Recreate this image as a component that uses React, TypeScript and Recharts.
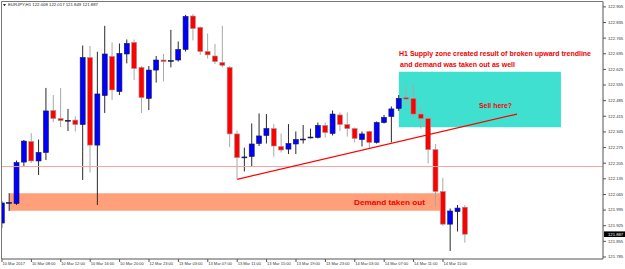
import React from 'react';
import {
  ComposedChart,
  Bar,
  XAxis,
  YAxis,
  ReferenceArea,
  ReferenceLine
} from 'recharts';

// EURJPY H1, one entry per bar (10 Mar 04:00 -> 14 Mar 18:00)
const opens = [
  121.937, 122.027, 122.024, 122.210, 122.302, 122.215, 122.253, 122.441, 122.405, 122.397,
  122.398, 122.378, 122.678, 122.286, 122.508, 122.683, 122.526, 122.694, 122.746, 122.634,
  122.495, 122.622, 122.667, 122.663, 122.667, 122.714, 122.864, 122.813, 122.705, 122.685,
  122.656, 122.634, 122.336, 122.230, 122.235, 122.293, 122.329, 122.360, 122.280, 122.268,
  122.291, 122.311, 122.320, 122.320, 122.374, 122.338, 122.421, 122.378, 122.360, 122.311,
  122.347, 122.298, 122.387, 122.414, 122.450, 122.499, 122.495, 122.425, 122.405, 122.266,
  122.078, 121.932, 121.988, 122.008
];
const highs = [
  122.036, 122.071, 122.217, 122.309, 122.340, 122.311, 122.542, 122.510, 122.542, 122.448,
  122.414, 122.732, 122.730, 122.704, 122.820, 122.746, 122.741, 122.759, 122.759, 122.640,
  122.640, 122.685, 122.694, 122.802, 122.750, 122.869, 122.873, 122.817, 122.786, 122.739,
  122.820, 122.640, 122.351, 122.275, 122.383, 122.428, 122.425, 122.380, 122.338, 122.380,
  122.347, 122.376, 122.360, 122.387, 122.387, 122.441, 122.432, 122.432, 122.365, 122.347,
  122.351, 122.392, 122.421, 122.459, 122.510, 122.551, 122.562, 122.454, 122.416, 122.291,
  122.139, 122.002, 122.018, 122.017
];
const lows = [
  121.915, 121.991, 122.018, 122.192, 122.206, 122.152, 122.219, 122.389, 122.367, 122.349,
  122.347, 122.130, 122.163, 122.018, 122.430, 122.488, 122.510, 122.652, 122.578, 122.430,
  122.443, 122.566, 122.571, 122.634, 122.660, 122.705, 122.755, 122.690, 122.674, 122.649,
  122.634, 122.277, 122.134, 122.168, 122.192, 122.282, 122.293, 122.235, 122.253, 122.246,
  122.246, 122.293, 122.316, 122.316, 122.320, 122.329, 122.349, 122.324, 122.298, 122.280,
  122.273, 122.293, 122.383, 122.298, 122.439, 122.466, 122.407, 122.360, 122.204, 122.011,
  121.924, 121.812, 121.899, 121.849
];
const closes = [
  122.027, 122.029, 122.208, 122.304, 122.215, 122.253, 122.439, 122.405, 122.396, 122.397,
  122.378, 122.678, 122.286, 122.515, 122.694, 122.533, 122.696, 122.741, 122.629, 122.499,
  122.622, 122.667, 122.660, 122.665, 122.714, 122.862, 122.808, 122.705, 122.690, 122.660,
  122.643, 122.336, 122.230, 122.233, 122.291, 122.327, 122.360, 122.282, 122.264, 122.293,
  122.311, 122.313, 122.322, 122.374, 122.342, 122.425, 122.378, 122.360, 122.316, 122.336,
  122.298, 122.387, 122.410, 122.448, 122.495, 122.492, 122.425, 122.405, 122.266, 122.078,
  121.932, 121.991, 122.004, 121.887
];

const timeTicks = [0, 4, 8, 12, 16, 20, 24, 28, 32, 36, 40, 44, 48, 52, 56, 60];
const timeLabels = [
  '10 Mar 2017', '10 Mar 08:00', '10 Mar 12:00', '10 Mar 16:00', '10 Mar 20:00',
  '12 Mar 23:00', '13 Mar 03:00', '13 Mar 07:00', '13 Mar 11:00', '13 Mar 15:00',
  '13 Mar 19:00', '13 Mar 23:00', '14 Mar 03:00', '14 Mar 07:00', '14 Mar 11:00',
  '14 Mar 15:00'
];
const priceTicks = [
  122.905, 122.835, 122.765, 122.695, 122.625, 122.555, 122.485, 122.415, 122.345,
  122.275, 122.205, 122.135, 122.065, 121.995, 121.925, 121.855, 121.785
];

// zones and lines drawn on the chart (bar index / price)
const demandX = [1, 59.6];
const demandY = [121.992, 122.070];
const supplyX = [54, 76.05];
const supplyY = [122.366, 122.615];
const trendX = [32, 70.07];
const trendY = [122.133, 122.425];
const levelPrice = 122.19;
const lastPrice = 121.887;

const data = opens.map((open, i) => ({
  i,
  open,
  high: highs[i],
  low: lows[i],
  close: closes[i]
}));

const FONT = '"Liberation Sans", Arial, sans-serif';

const Candle = (props: any) => {
  const { x, y, width, height, payload } = props;
  if (!payload) return null;
  const { open, close, high, low } = payload;
  const top0 = Math.min(y, y + height);
  const h = Math.abs(height);
  const span = high - low;
  const toY = (v: number) => top0 + (span === 0 ? 0 : ((high - v) / span) * h);
  const cx = x + width / 2;
  const up = close >= open;
  const bTop = toY(Math.max(open, close));
  const bBot = toY(Math.min(open, close));
  return (
    <g>
      <line x1={cx} x2={cx} y1={toY(high)} y2={toY(low)} stroke={up ? '#2a2a2a' : '#a8a8a8'} strokeWidth={1} />
      <rect
        x={cx - 2.5}
        y={bTop}
        width={5}
        height={Math.max(bBot - bTop, 0.9)}
        fill={up ? '#0000ff' : '#ff0000'}
        stroke={up ? '#1a1a40' : '#9a9a9a'}
        strokeWidth={0.6}
      />
    </g>
  );
};

const TimeTick = (props: any) => {
  const { x, payload } = props;
  const idx = timeTicks.indexOf(payload.value);
  return (
    <text x={x + 0.5} y={265} fontSize={4} fontFamily={FONT} fill="#333">
      {timeLabels[idx]}
    </text>
  );
};

const PriceTick = (props: any) => {
  const { y, payload } = props;
  return (
    <text x={608} y={y + 1.4} fontSize={4.2} fontFamily={FONT} fill="#333">
      {payload.value.toFixed(3)}
    </text>
  );
};

const PriceTag = (props: any) => {
  const vb = props.viewBox;
  if (!vb) return null;
  const x = vb.x + vb.width + 1;
  return (
    <g>
      <rect x={x} y={vb.y - 2.8} width={21} height={5.6} fill="#000" />
      <text x={x + 4} y={vb.y + 1.5} fontSize={4.2} fontFamily={FONT} fill="#fff">
        {lastPrice.toFixed(3)}
      </text>
    </g>
  );
};

export default function App() {
  return (
    <div style={{ position: 'absolute', left: 0, top: 0, width: 625, height: 269, background: '#fff' }}>
      <ComposedChart
        width={625}
        height={269}
        data={data}
        margin={{ top: 1.5, right: 0, bottom: 0, left: 1.5 }}
      >
        <XAxis
          dataKey="i"
          type="number"
          domain={[-0.068, 81.77]}
          allowDataOverflow
          ticks={timeTicks}
          interval={0}
          height={10}
          tickSize={3}
          stroke="#555"
          tick={<TimeTick />}
        />
        <YAxis
          orientation="right"
          type="number"
          domain={[121.776, 122.929]}
          allowDataOverflow
          ticks={priceTicks}
          interval={0}
          width={22}
          tickSize={3}
          stroke="#555"
          tick={<PriceTick />}
        />
        <ReferenceArea
          x1={demandX[0]}
          x2={demandX[1]}
          y1={demandY[0]}
          y2={demandY[1]}
          fill="#ffa07a"
          fillOpacity={1}
          stroke="none"
        />
        <ReferenceArea
          x1={supplyX[0]}
          x2={supplyX[1]}
          y1={supplyY[0]}
          y2={supplyY[1]}
          fill="#40e0d0"
          fillOpacity={1}
          stroke="none"
        />
        <ReferenceLine y={levelPrice} stroke="#f2a5a5" strokeWidth={1} />
        <Bar
          dataKey={(d: any) => [d.low, d.high]}
          barSize={5}
          shape={<Candle />}
          isAnimationActive={false}
        />
        <ReferenceLine
          segment={[{ x: trendX[0], y: trendY[0] }, { x: trendX[1], y: trendY[1] }]}
          stroke="#ff0000"
          strokeWidth={1.3}
        />
        <ReferenceLine y={lastPrice} stroke="none" label={<PriceTag />} />
      </ComposedChart>

      {/* chart frame, title and text objects */}
      <svg
        width={625}
        height={269}
        style={{ position: 'absolute', left: 0, top: 0, pointerEvents: 'none' }}
      >
        <line x1={1.5} x2={603} y1={1.5} y2={1.5} stroke="#777" strokeWidth={1} />
        <line x1={1.5} x2={1.5} y1={1.5} y2={259} stroke="#777" strokeWidth={1} />
        <polygon points="3,4 6,4 4.5,6.2" fill="#222" />
        <text x={8} y={6.4} fontSize={4.3} fontFamily={FONT} fill="#222">
          EURJPY,H1  122.008 122.017 121.849 121.887
        </text>
        <text x={399} y={55.6} fontSize={6.5} fontWeight={700} fontFamily={FONT} fill="#f00000"
          textLength={192} lengthAdjust="spacingAndGlyphs">
          H1 Supply zone created result of broken upward trendline
        </text>
        <text x={400} y={66.6} fontSize={6.5} fontWeight={700} fontFamily={FONT} fill="#f00000"
          textLength={115} lengthAdjust="spacingAndGlyphs">
          and demand was taken out as well
        </text>
        <text x={479} y={108} fontSize={6.5} fontWeight={700} fontFamily={FONT} fill="#f00000"
          textLength={33} lengthAdjust="spacingAndGlyphs">
          Sell here?
        </text>
        <text x={354} y={204.6} fontSize={7.2} fontWeight={700} fontFamily={FONT} fill="#f00000"
          textLength={71} lengthAdjust="spacingAndGlyphs">
          Demand taken out
        </text>
      </svg>
    </div>
  );
}
